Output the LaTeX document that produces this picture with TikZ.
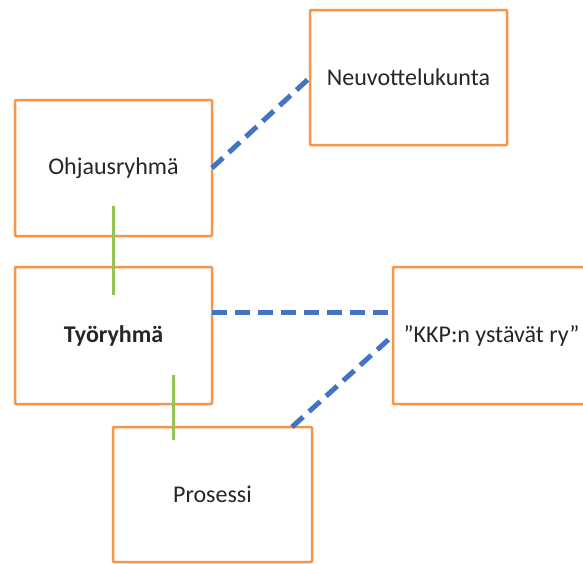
\documentclass[tikz,border=0pt]{standalone}
\usepackage{fontspec}
\setmainfont{Carlito}
\begin{document}
\begin{tikzpicture}[x=1pt,y=-1pt,
  boxnode/.style={draw=boxorange,line width=2.5pt,inner sep=0pt,outer sep=0pt,
    minimum width=197pt,minimum height=136pt,rounded corners=1pt,
    font=\fontsize{24}{28}\selectfont,text=black!85},
  bluedash/.style={draw=lineblue,line width=5pt,dash pattern=on 15pt off 8pt},
  greenline/.style={draw=linegreen,line width=3pt}]
\definecolor{boxorange}{RGB}{247,150,70}
\definecolor{lineblue}{RGB}{68,114,196}
\definecolor{linegreen}{RGB}{150,195,85}
\clip (0,0) rectangle (583,563);
\fill[white] (0,0) rectangle (583,563);
\node[boxnode] (ohj) at (113.5,168) {Ohjausryhmä};
\node[boxnode,minimum height=135pt] (neu) at (408.5,77.5) {Neuvottelukunta};
\node[boxnode,minimum height=137pt,font=\fontsize{24}{28}\selectfont\bfseries] (tyo) at (113.5,335.5) {Työryhmä};
\node[boxnode,minimum height=137pt] (kkp) at (491.5,335.5) {”KKP:n ystävät ry”};
\node[boxnode,minimum width=199pt,minimum height=135pt] (prs) at (212.5,494.5) {Prosessi};
\coordinate (g1a) at ([yshift=30pt]ohj.south);
\coordinate (g1b) at ([yshift=-28pt]tyo.north);
\coordinate (g2a) at ([xshift=59.5pt,yshift=29pt]tyo.south);
\coordinate (g2b) at ([xshift=-39.5pt,yshift=-13pt]prs.north);
\draw[greenline] (g1a) -- (g1b);
\draw[greenline] (g2a) -- (g2b);
\draw[bluedash] (ohj.east) -- (neu.west);
\draw[bluedash] ([yshift=23.5pt]tyo.east) -- ([yshift=23.5pt]kkp.west);
\draw[bluedash] ([xshift=-20pt]prs.north east) -- (kkp.west);
\end{tikzpicture}
\end{document}
